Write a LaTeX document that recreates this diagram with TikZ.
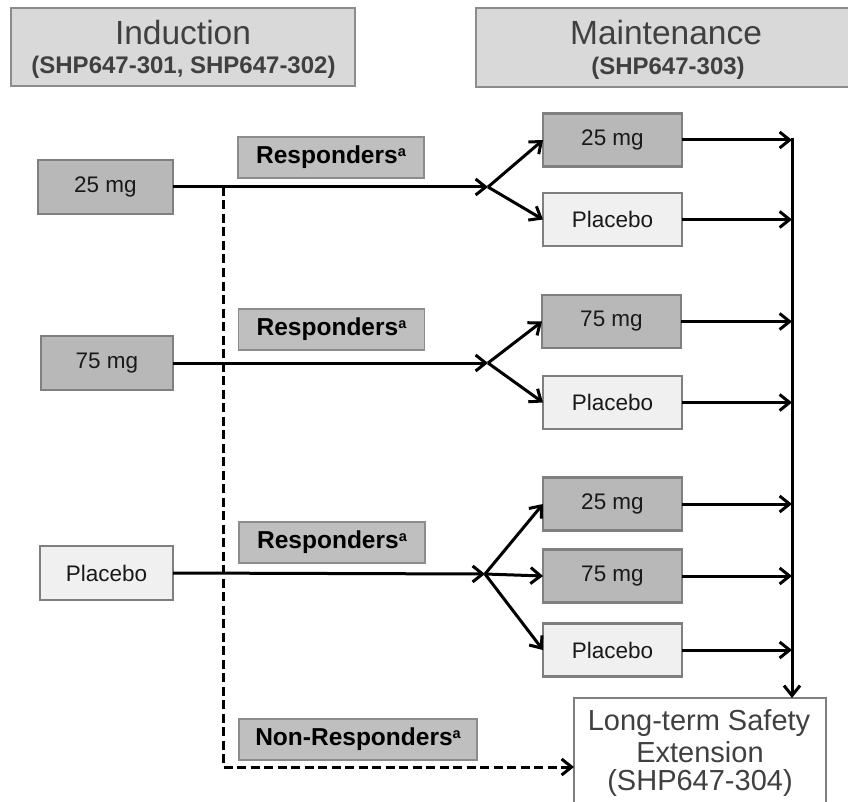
\documentclass[tikz,border=0pt]{standalone}
\usepackage{fontspec}
\setmainfont{Liberation Sans}
\usetikzlibrary{arrows.meta}
\definecolor{hdrfill}{HTML}{D9D9D9}
\definecolor{hdrborder}{HTML}{8C8C8C}
\definecolor{boxdark}{HTML}{B8B8B8}
\definecolor{boxlight}{HTML}{F0F0F0}
\definecolor{boxborder}{HTML}{7F7F7F}
\definecolor{respfill}{HTML}{BFBFBF}
\definecolor{respborder}{HTML}{8C8C8C}
\definecolor{hdrtext}{HTML}{404040}
\begin{document}
\begin{tikzpicture}[x=1pt,y=-1pt,
  hdrbox/.style={draw=hdrborder, line width=1.6pt, fill=hdrfill, rectangle, inner sep=0pt, outer sep=0pt},
  hdrtitle/.style={anchor=base, inner sep=0pt, text=hdrtext, font=\fontsize{33.5}{36}\selectfont},
  hdrsub/.style={anchor=base, inner sep=0pt, text=hdrtext, font=\bfseries\fontsize{24}{26}\selectfont},
  ltsetext/.style={anchor=base, inner sep=0pt, text=hdrtext, font=\fontsize{29}{30}\selectfont},
  armbox/.style={rectangle, draw=boxborder, line width=2.2pt, minimum width=139pt, minimum height=53pt, inner sep=0pt, outer sep=0pt, font=\fontsize{22.5}{24}\selectfont, text=black!90},
  darkbox/.style={armbox, fill=boxdark},
  lightbox/.style={armbox, fill=boxlight},
  respbox/.style={rectangle, draw=respborder, line width=1.3pt, fill=respfill, minimum width=186pt, minimum height=41pt, inner sep=0pt, outer sep=0pt, font=\bfseries\fontsize{24.5}{26}\selectfont},
  arr/.style={line width=3pt, -{Straight Barb[length=10pt,width=16pt,line width=3pt]}},
  dsh/.style={line width=3pt, dash pattern=on 9pt off 4.5pt, -{Straight Barb[length=10pt,width=16pt,line width=3pt]}},
]
\useasboundingbox (0,0) rectangle (848,802);
\clip (0,0) rectangle (848,802);
\newcommand{\supa}{{\fontsize{14.5}{14}\selectfont\raisebox{7.5pt}{a}}}

% headers
\node[hdrbox, minimum width=344pt, minimum height=78pt] (indbox) at (183,47) {};
\node[hdrtitle] (indt) at (183,45) {Induction};
\node[hdrsub] (inds) at (183.5,74) {(SHP647-301, SHP647-302)};
\node[hdrbox, minimum width=374pt, minimum height=79pt] (mainbox) at (663,47.5) {};
\node[hdrtitle] (maint) at (666,45) {Maintenance};
\node[hdrsub] (mains) at (668,75) {(SHP647-303)};

% left induction arms
\node[darkbox, minimum width=135pt, minimum height=54pt] (l1) at (105.5,187) {25 mg};
\node[darkbox, minimum width=132pt, minimum height=54pt] (l2) at (107,363) {75 mg};
\node[lightbox, minimum width=133pt, minimum height=54pt] (l3) at (106.5,573) {Placebo};

% responder labels
\node[respbox] (rs1) at (331,157.5) {Responders\supa};
\node[respbox] (rs2) at (331.5,329.5) {Responders\supa};
\node[respbox] (rs3) at (332,542.5) {Responders\supa};
\node[respbox, minimum width=238pt] (nr) at (358,739.5) {Non-Responders\supa};

% maintenance arms
\node[darkbox] (r1a) at (612.5,140) {25 mg};
\node[lightbox] (r1b) at (612.5,219.5) {Placebo};
\node[darkbox] (r2a) at (611.5,321.5) {75 mg};
\node[lightbox] (r2b) at (612.5,402.5) {Placebo};
\node[darkbox] (r3a) at (612.5,504) {25 mg};
\node[darkbox] (r3b) at (612.5,576) {75 mg};
\node[lightbox] (r3c) at (612.5,650) {Placebo};

% long-term safety extension
\node[rectangle, draw=boxborder, line width=1.6pt, fill=white, minimum width=252pt, minimum height=138pt, inner sep=0pt, outer sep=0pt] (ltse) at (700,767) {};
\node[ltsetext] (lt1) at (699,730) {Long-term Safety};
\node[ltsetext] (lt2) at (700,762) {Extension};
\node[ltsetext] (lt3) at (700,790) {(SHP647-304)};

% branch points and collector
\coordinate (b1) at (488,187);
\coordinate (b2) at (488,363);
\coordinate (b3) at (485,574);
\coordinate (vtop) at (792,138);
\coordinate (dstart) at (223,187);

\draw[arr] (l1.east) -- (b1);
\draw[arr] (l2.east) -- (b2);
\draw[arr] (l3.east) -- (b3);
\draw[arr] (b1) -- (r1a.west);
\draw[arr] (b1) -- (r1b.west);
\draw[arr] (b2) -- (r2a.west);
\draw[arr] (b2) -- (r2b.west);
\draw[arr] (b3) -- (r3a.west);
\draw[arr] (b3) -- (r3b.west);
\draw[arr] (b3) -- (r3c.west);

\foreach \n in {r1a,r1b,r2a,r2b,r3a,r3b,r3c}
  \draw[arr] (\n.east) -- (\n.east -| vtop);
\draw[arr] (vtop) -- (vtop |- ltse.north);

\draw[dsh] (dstart) |- (ltse.west);
\end{tikzpicture}
\end{document}
